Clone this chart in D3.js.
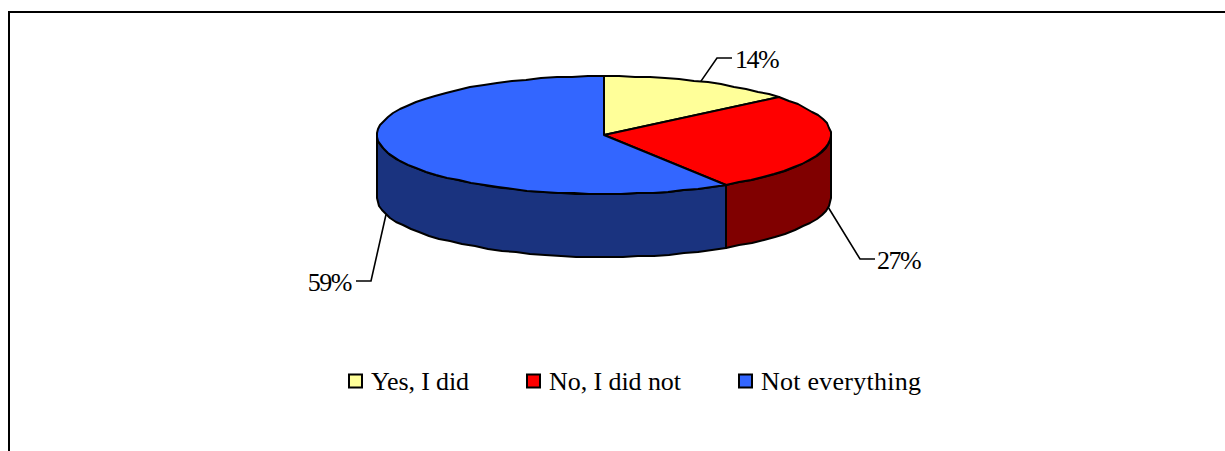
<!DOCTYPE html>
<html>
<head>
<meta charset="utf-8">
<script src="https://cdnjs.cloudflare.com/ajax/libs/d3/7.8.5/d3.min.js"></script>
<style>
html, body { margin: 0; padding: 0; background: #fff; overflow: hidden; }
text { font-family: "Liberation Serif", serif; fill: #000; }
</style>
</head>
<body>
<script>
// datos
var categorias = ["Yes, I did", "No, I did not", "Not everything"];
var valores = [14, 27, 59];
var etiquetas = ["14%", "27%", "59%"];
var colores = ["#ffff99", "#ff0000", "#3366ff"];
var lados = ["#808000", "#800000", "#1a337f"];

var width = 1225, height = 451;
var cx = 604, cy = 135, rx = 227, ry = 59, depth = 63;

var svg = d3.select("body").append("svg")
    .attr("width", width)
    .attr("height", height)
    .style("display", "block");

// marco: sin borde derecho
svg.append("path")
    .attr("d", "M9,451V12H1225")
    .attr("fill", "none")
    .attr("stroke", "#000")
    .attr("stroke-width", 2);

var pie = d3.pie().sort(null)(valores);

// angulo (desde arriba, sentido horario) a punto de la elipse
function punto(a, dy) {
    return [cx + rx * Math.sin(a), cy - ry * Math.cos(a) + (dy || 0)];
}
function arco(a0, a1, dy) {
    var n = Math.max(2, Math.round((a1 - a0) / (Math.PI * 2) * 90));
    return d3.range(n + 1).map(function(i) {
        var p = punto(a0 + (a1 - a0) * i / n, dy);
        return [Math.round(p[0]), Math.round(p[1])];
    });
}
var linea = d3.line();

// paredes: solo la parte frontal de la elipse
pie.forEach(function(d, i) {
    var a0 = Math.max(d.startAngle, Math.PI / 2);
    var a1 = Math.min(d.endAngle, Math.PI * 1.5);
    if (a1 <= a0) return;
    var arriba = arco(a0, a1, 0);
    var abajo = arco(a0, a1, depth).reverse();
    svg.append("path")
        .attr("d", linea(arriba.concat(abajo)) + "Z")
        .attr("fill", lados[i])
        .attr("stroke", "#000")
        .attr("stroke-width", 2)
        .attr("stroke-linejoin", "round");
});

// tapa
pie.forEach(function(d, i) {
    var pts = [[cx, cy]].concat(arco(d.startAngle, d.endAngle, 0));
    svg.append("path")
        .attr("d", linea(pts) + "Z")
        .attr("fill", colores[i])
        .attr("stroke", "#000")
        .attr("stroke-width", 2)
        .attr("stroke-linejoin", "round");
});

// lineas guia y etiquetas
var guias = [
    { dy: 0, codo: [717, 58], fin: [732, 58], tx: 735, ty: 68, anchor: "start" },
    { dy: depth, codo: [860, 259], fin: [875, 259], tx: 877, ty: 269, anchor: "start" },
    { dy: depth, codo: [371, 281], fin: [356, 281], tx: 351, ty: 291, anchor: "end" }
];
pie.forEach(function(d, i) {
    var g = guias[i];
    var ini = punto((d.startAngle + d.endAngle) / 2, g.dy);
    svg.append("path")
        .attr("d", linea([ini, g.codo, g.fin]))
        .attr("fill", "none")
        .attr("stroke", "#000")
        .attr("stroke-width", 1.6);
    svg.append("text")
        .attr("x", g.tx)
        .attr("y", g.ty)
        .attr("text-anchor", g.anchor)
        .style("font-size", "26px")
        .style("letter-spacing", "-1.5px")
        .text(etiquetas[i]);
});

// leyenda
var leyX = [349, 527, 739];
var leyAncho = [98, 132, 160];
var ley = svg.selectAll(".ley").data(categorias).enter().append("g").attr("class", "ley")
    .attr("transform", function(d, i) { return "translate(" + leyX[i] + ",374.5)"; });
ley.append("rect")
    .attr("width", 13).attr("height", 13)
    .attr("fill", function(d, i) { return colores[i]; })
    .attr("stroke", "#000")
    .attr("stroke-width", 2);
ley.append("text")
    .attr("x", 22)
    .attr("y", 15.5)
    .attr("textLength", function(d, i) { return leyAncho[i]; })
    .attr("lengthAdjust", "spacing")
    .style("font-size", "26px")
    .text(function(d) { return d; });
</script>
</body>
</html>
